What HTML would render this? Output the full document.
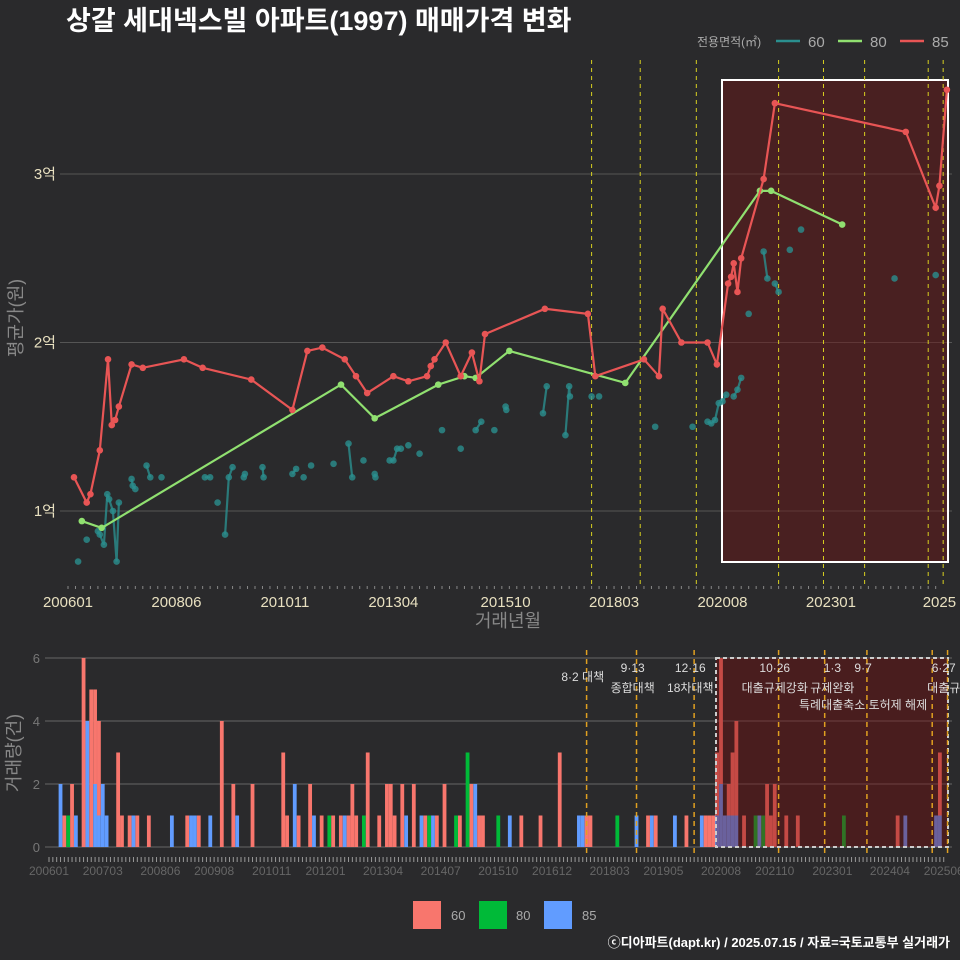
<!DOCTYPE html>
<html><head><meta charset="utf-8">
<style>
body{margin:0;background:#2a2a2c;}
svg{display:block;font-family:"Liberation Sans","Noto Sans CJK KR",sans-serif;}
</style></head>
<body>
<svg id="c" width="960" height="960" viewBox="0 0 960 960" xmlns="http://www.w3.org/2000/svg">
<rect x="0" y="0" width="960" height="960" fill="#2a2a2c"/>
<text x="66" y="30" fill="#ffffff" font-size="27" font-weight="bold">상갈 세대넥스빌 아파트(1997) 매매가격 변화</text>
<g>
<text x="697" y="46" fill="#aaaaaa" font-size="12">전용면적(㎡)</text>
<line x1="776" y1="41" x2="800" y2="41" stroke="#2a8f8f" stroke-width="2.5"/>
<text x="808" y="47" fill="#aaaaaa" font-size="15">60</text>
<line x1="838" y1="41" x2="862" y2="41" stroke="#90e070" stroke-width="2.5"/>
<text x="870" y="47" fill="#aaaaaa" font-size="15">80</text>
<line x1="900" y1="41" x2="924" y2="41" stroke="#e85555" stroke-width="2.5"/>
<text x="932" y="47" fill="#aaaaaa" font-size="15">85</text>
</g>
<g id="topg"></g>
<g id="botg"></g>
<g>
<rect x="413" y="901" width="28" height="28" fill="#F8766D"/>
<text x="451" y="920" fill="#aaaaaa" font-size="13">60</text>
<rect x="479" y="901" width="28" height="28" fill="#00BA38"/>
<text x="516" y="920" fill="#aaaaaa" font-size="13">80</text>
<rect x="544" y="901" width="28" height="28" fill="#619CFF"/>
<text x="582" y="920" fill="#aaaaaa" font-size="13">85</text>
</g>
<text x="950" y="947" fill="#ffffff" font-size="13" font-weight="bold" text-anchor="end">ⓒ디아파트(dapt.kr) / 2025.07.15 / 자료=국토교통부 실거래가</text>
</svg>
<script>
// months since 2006-01
const xTickLabelsTop = ["200601","200806","201011","201304","201510","201803","202008","202301","2025"];
const xTickMonthsTop = [0,29,58,87,117,146,175,204,233];
const yTickValues = [1,2,3];
const yTickLabels = ["1억","2억","3억"];
const eventMonths = [140,153,168,190,202,213,230,234];
const s85Months = [1.6,5,6,8.5,10.7,11.7,12.6,13.6,17,20,31,36,49,60,64,68,74,77,80,87,91,96,97,98,101,105,108,110,111.5,127.5,139,141,154,158,159,164,171,173.5,176.5,177.3,178,179,180,186,189,224,232,233,235];
const s85Values = [1.2,1.05,1.1,1.36,1.9,1.51,1.54,1.62,1.87,1.85,1.9,1.85,1.78,1.6,1.95,1.97,1.9,1.8,1.7,1.8,1.77,1.8,1.86,1.9,2.0,1.8,1.94,1.77,2.05,2.2,2.17,1.8,1.9,1.8,2.2,2.0,2.0,1.87,2.35,2.39,2.47,2.3,2.5,2.97,3.42,3.25,2.8,2.93,3.5];
const s80Months = [3.7,9,73,82,99,106,109,118,149,185,188,207];
const s80Values = [0.94,0.9,1.75,1.55,1.75,1.8,1.79,1.95,1.76,2.9,2.9,2.7];
const s60Months = [2.7,5,8,8.5,9.6,10.5,11,12,13,13.6,17,17.3,18,21,22,25,36.6,38,40,42,43,44,47,47.3,52,52.3,60,61,63,65,71,75,76,79,82,82.2,86,87,88,89,91,94,100,105,109,110.5,114,117,117.2,127,128,133,134,134.2,140,142,157,167,171,172,173,174,175,176,178,179,180,182,186,187,189,190,193,196,221,232];
const s60Values = [0.7,0.83,0.88,0.86,0.8,1.1,1.07,1.0,0.7,1.05,1.19,1.15,1.13,1.27,1.2,1.2,1.2,1.2,1.05,0.86,1.2,1.26,1.2,1.22,1.26,1.2,1.22,1.25,1.2,1.27,1.28,1.4,1.2,1.3,1.22,1.2,1.3,1.3,1.37,1.37,1.39,1.34,1.48,1.37,1.48,1.53,1.48,1.62,1.6,1.58,1.74,1.45,1.74,1.68,1.68,1.68,1.5,1.5,1.53,1.52,1.54,1.64,1.65,1.69,1.68,1.72,1.79,2.17,2.54,2.38,2.35,2.3,2.55,2.67,2.38,2.4];
// volume bars
const barMonths = [3,4,5,6,7,9,10,11,12,13,14,15,18,19,21,22,23,26,32,36,37,38,39,42,45,48,49,53,61,62,64,65,68,69,71,73,74,76,77,78,79,80,82,83,86,88,89,90,92,93,95,97,98,99,100,101,103,106,107,109,110,111,112,113,117,120,123,128,133,138,139,140,141,148,153,156,157,158,163,166,170,171,172,173,174,175,176,177,178,179,181,184,185,186,187,188,189,192,195,207,221,223,231,232];
const bar60 = [0,1,0,2,0,6,0,5,3,3,0,0,3,1,1,0,1,1,0,1,0,0,1,0,4,2,0,2,3,1,0,1,2,0,1,0,1,1,0,1,2,1,0,3,1,2,2,1,2,0,2,0,1,0,0,1,2,0,1,0,2,0,1,1,0,0,1,1,3,0,0,1,1,0,0,1,0,1,0,1,0,1,1,1,2,4,0,1,2,3,1,0,0,0,2,1,2,1,1,0,1,0,0,2];
const bar80 = [0,0,1,0,0,0,0,0,0,0,0,0,0,0,0,0,0,0,0,0,0,0,0,0,0,0,0,0,0,0,0,0,0,0,0,1,0,0,0,0,0,0,1,0,0,0,0,0,0,0,0,0,0,1,0,0,0,1,0,3,0,0,0,0,1,0,0,0,0,0,0,0,0,1,0,0,0,0,0,0,0,0,0,0,0,0,0,0,0,0,0,1,0,1,0,0,0,0,0,1,0,0,0,0];
const bar85 = [2,0,0,0,1,0,4,0,2,1,2,1,0,0,0,1,0,0,1,0,1,1,0,1,0,0,1,0,0,0,2,0,0,1,0,0,0,0,1,0,0,0,0,0,0,0,0,0,0,1,0,1,0,0,1,0,0,0,0,0,0,2,0,0,0,1,0,0,0,1,1,0,0,0,1,0,1,0,1,0,1,0,0,0,1,2,1,1,1,1,0,0,1,0,0,0,0,0,0,0,0,1,1,1];
const yTickValuesBot = [0,2,4,6];
const xTickLabelsBot = ["200601","200703","200806","200908","201011","201201","201304","201407","201510","201612","201803","201905","202008","202110","202301","202404","202506"];
const xTickMonthsBot = [0,14,29,43,58,72,87,102,117,131,146,160,175,189,204,219,233];
const eventLabels1 = ["8·2 대책","9·13","12·16","10·26","1·3","9·7","6·27"];
const eventLabels2 = ["","종합대책","18차대책","대출규제강화","규제완화","특례대출축소 토허제 해제","대출규"];
const eventLabelMonths = [139,152,167,189,204,212,233];

const NS="http://www.w3.org/2000/svg";
function mk(p,tag,a){const e=document.createElementNS(NS,tag);for(const k in a)e.setAttribute(k,a[k]);p.appendChild(e);return e;}
const xT=m=>68+m*3.74, yT=v=>511-(v-1)*168.5;
const xB=m=>49+m*3.84, yB=n=>847-n*31.5;
const topG=document.getElementById('topg'), botG=document.getElementById('botg');

yTickValues.forEach((v,i)=>{
 const g=mk(topG,'line',{x1:60,x2:952,y1:yT(v),y2:yT(v),stroke:'#555',"stroke-width":1});
 
 
 const t=mk(topG,'text',{x:56,y:yT(v)+5,fill:'#e8e0c0',"font-size":15,"text-anchor":"end"});t.textContent=yTickLabels[i];
 
 
});
const sr=mk(topG,'rect',{x:722,y:80,width:226,height:482,fill:'rgba(110,20,20,0.45)',stroke:'#fff',"stroke-width":2});


eventMonths.forEach(m=>{
 const l=mk(topG,'line',{x1:xT(m),x2:xT(m),y1:60,y2:585,stroke:'#d8d020',"stroke-width":1,"stroke-dasharray":"4,4"});
 
 
});
for(let m=0;m<=233;m+=2){const t=mk(topG,'line',{x1:xT(m),x2:xT(m),y1:586,y2:589,stroke:'#888',"stroke-width":1});
 
 }
xTickLabelsTop.forEach((s,i)=>{const t=mk(topG,'text',{x:xT(xTickMonthsTop[i]),y:607,fill:'#e8e0c0',"font-size":15,"text-anchor":"middle"});t.textContent=s;
 
 });
let at=mk(topG,'text',{x:508,y:627,fill:'#888',"font-size":18,"text-anchor":"middle"});at.textContent='거래년월';


at=mk(topG,'text',{x:0,y:0,fill:'#888',"font-size":18,"text-anchor":"middle",transform:'translate(22,318) rotate(-90)'});at.textContent='평균가(원)';



function series(ms,vs,color,name,gap,op){
 let d='';
 ms.forEach((m,i)=>{const brk=gap&&i>0&&(m-ms[i-1])>gap;d+=(i===0||brk?'M':'L')+xT(m).toFixed(1)+','+yT(vs[i]).toFixed(1);});
 const p=mk(topG,'path',{d:d,fill:'none',stroke:color,"stroke-width":2.2,opacity:op});
 
 
 ms.forEach((m,i)=>{const c=mk(topG,'circle',{cx:xT(m),cy:yT(vs[i]),r:3.3,fill:color,opacity:op});
  
  });
}
series(s60Months,s60Values,'#2a8f8f','60',1.5,0.8);
series(s80Months,s80Values,'#90e070','80',0,1);
series(s85Months,s85Values,'#e85555','85',0,1);

yTickValuesBot.forEach(v=>{
 const g=mk(botG,'line',{x1:45,x2:952,y1:yB(v),y2:yB(v),stroke:'#666',"stroke-width":1});
 
 
 const t=mk(botG,'text',{x:40,y:yB(v)+5,fill:'#777',"font-size":13,"text-anchor":"end"});t.textContent=v;
 
 
});
at=mk(botG,'text',{x:0,y:0,fill:'#888',"font-size":18,"text-anchor":"middle",transform:'translate(20,753) rotate(-90)'});at.textContent='거래량(건)';


barMonths.forEach((m,i)=>{
 let base=0;
 [[bar85[i],'#619CFF','85'],[bar80[i],'#00BA38','80'],[bar60[i],'#F8766D','60']].forEach(([n,c,nm])=>{
  if(!n)return;
  const r=mk(botG,'rect',{x:xB(m)-1.9,y:yB(base+n),width:3.8,height:yB(base)-yB(base+n),fill:c});
  
  
  base+=n;
 });
});
const br=mk(botG,'rect',{x:716,y:658,width:232,height:189,fill:'rgba(120,10,10,0.4)',stroke:'#ccc',"stroke-width":2,"stroke-dasharray":"4,3"});


eventMonths.forEach(m=>{
 const l=mk(botG,'line',{x1:xB(m),x2:xB(m),y1:650,y2:857,stroke:'#e0a020',"stroke-width":1.5,"stroke-dasharray":"5,4"});
 
 
});
eventLabelMonths.forEach((m,i)=>{
 const t1=mk(botG,'text',{x:xB(m),y:i===0?681:672,fill:'#ddd',"font-size":12,"text-anchor":"middle"});t1.textContent=eventLabels1[i];
 
 
 if(eventLabels2[i]){const t2=mk(botG,'text',{x:xB(m),y:i===5?709:692,fill:'#ddd',"font-size":12,"text-anchor":"middle"});t2.textContent=eventLabels2[i];
 
 }
});
for(let m=0;m<=233;m++){const t=mk(botG,'line',{x1:xB(m),x2:xB(m),y1:857,y2:862,stroke:'#999',"stroke-width":1});
 
 }
xTickLabelsBot.forEach((s,i)=>{const t=mk(botG,'text',{x:xB(xTickMonthsBot[i]),y:875,fill:'#666',"font-size":12,"text-anchor":"middle"});t.textContent=s;
 
 });
</script>
</body></html>
